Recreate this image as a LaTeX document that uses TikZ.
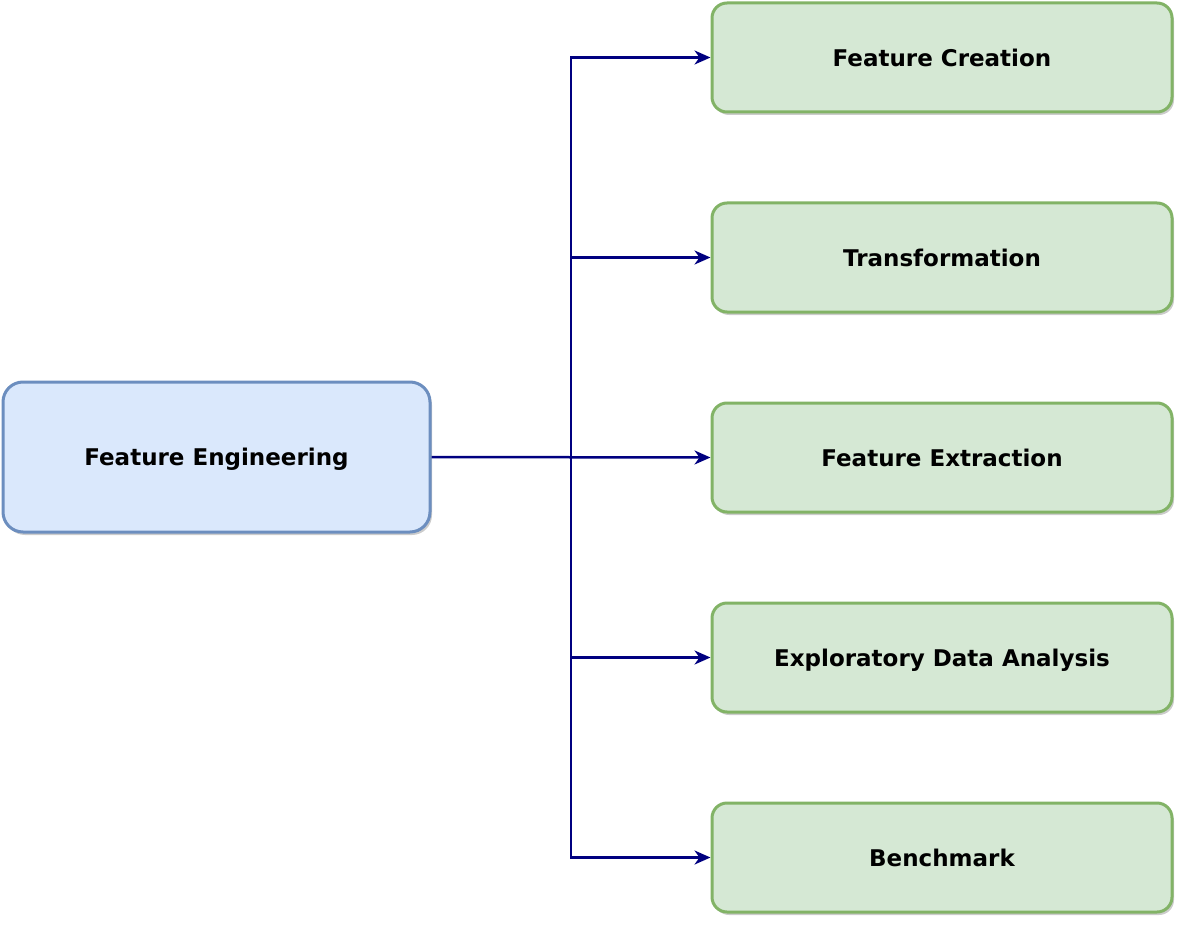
\documentclass[tikz,border=0pt]{standalone}
\usepackage{fontspec}
\setmainfont{DejaVu Sans}
\usetikzlibrary{arrows.meta,shadows}
\definecolor{bluefill}{HTML}{DAE8FC}
\definecolor{bluedraw}{HTML}{6C8EBF}
\definecolor{greenfill}{HTML}{D5E8D4}
\definecolor{greendraw}{HTML}{82B366}
\definecolor{navy}{HTML}{000080}
\tikzset{
  mainbox/.style={draw=bluedraw, fill=bluefill, line width=3pt, rounded corners=20pt,
    minimum width=427pt, minimum height=150pt, inner sep=0pt,
    font=\fontsize{23pt}{26pt}\selectfont\bfseries, text depth=-5pt,
    drop shadow={shadow xshift=2pt, shadow yshift=-3pt, opacity=0.2, fill=black}},
  leafbox/.style={draw=greendraw, fill=greenfill, line width=3pt, rounded corners=15pt,
    minimum width=460pt, minimum height=109pt, inner sep=0pt,
    font=\fontsize{23pt}{26pt}\selectfont\bfseries, text depth=-5pt,
    drop shadow={shadow xshift=2pt, shadow yshift=-3pt, opacity=0.2, fill=black}},
  conn/.style={draw=navy, line width=2.5pt, -{Stealth[length=16pt,width=14pt,inset=5pt]}},
}
\begin{document}
\begin{tikzpicture}[x=1pt,y=-1pt]
\useasboundingbox (0,0) rectangle (1185,925);
\node[mainbox] (fe) at (216.5,457) {Feature Engineering};
\node[leafbox] (a) at (942,57.5) {Feature Creation};
\node[leafbox] (b) at (942,257.5) {Transformation};
\node[leafbox] (c) at (942,457.5) {Feature Extraction};
\node[leafbox] (d) at (942,657.5) {Exploratory Data Analysis};
\node[leafbox] (e) at (942,857.5) {Benchmark};
\coordinate (t) at (571,457);
\draw[conn] (fe.east) -- (c.west);
\draw[conn] (t) -- (t |- a.west) -- (a.west);
\draw[conn] (t) -- (t |- b.west) -- (b.west);
\draw[conn] (t) -- (t |- d.west) -- (d.west);
\draw[conn] (t) -- (t |- e.west) -- (e.west);
\end{tikzpicture}
\end{document}
